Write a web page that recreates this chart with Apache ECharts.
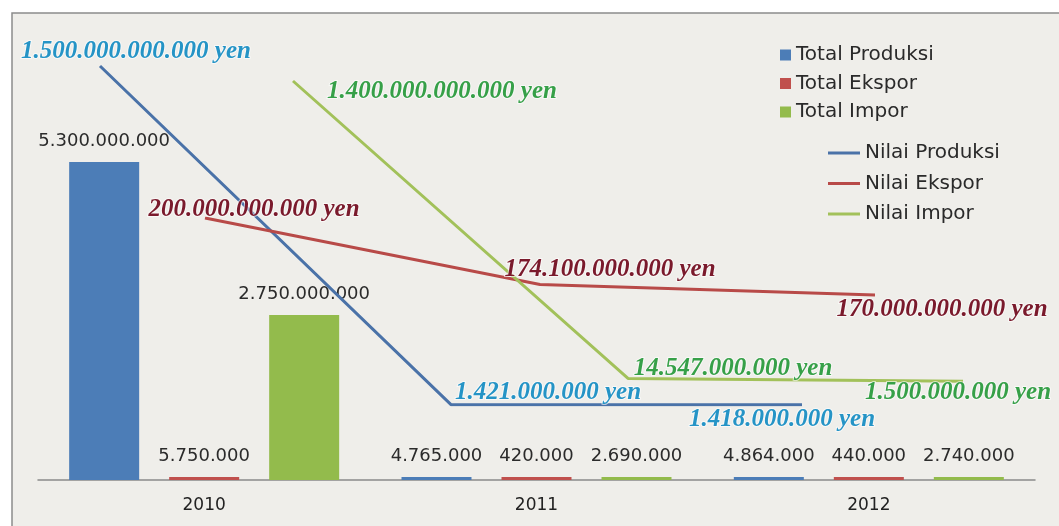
<!DOCTYPE html>
<html>
<head>
<meta charset="utf-8">
<script src="https://cdn.jsdelivr.net/npm/echarts@6/dist/echarts.min.js"></script>
<style>
  html, body { margin: 0; padding: 0; background: #ffffff; }
  #chart { width: 1059px; height: 526px; }
</style>
</head>
<body>
<div id="chart"></div>
<script>
// ---- data ----
const categories = ['2010', '2011', '2012'];
const totalProduksi = [5300000000, 4765000, 4864000];
const totalEkspor = [5750000, 420000, 440000];
const totalImpor = [2750000000, 2690000, 2740000];
const nilaiProduksi = [1500000000000, 1421000000, 1418000000];
const nilaiEkspor = [200000000000, 174100000000, 170000000000];
const nilaiImpor = [1400000000000, 14547000000, 1500000000];

// ---- layout (label offsets, px) ----
const produksiLabelOffset = [[36, -14], [97, -12], [-20, 15]];
const eksporLabelOffset = [[49, -8], [70, -15], [67, 15]];
const imporLabelOffset = [[149, 11], [105, -10], [-5, 11]];

function fmt(v) {
  return String(Math.round(v)).replace(/\B(?=(\d{3})+(?!\d))/g, '.');
}

const colors = {
  barProd: '#4c7db7', barEks: '#c0504d', barImp: '#93bb4c',
  lineProd: '#4a72a8', lineEks: '#b84a48', lineImp: '#a2c15a',
  lblProd: '#2594c6', lblEks: '#7a1a2c', lblImp: '#36a048'
};

function lineData(values, offsets) {
  return values.map((v, i) => ({ value: v, label: { offset: offsets[i] } }));
}

const serifLabel = (color) => ({
  show: true,
  position: 'inside',
  align: 'center',
  verticalAlign: 'middle',
  fontFamily: 'Liberation Serif',
  fontStyle: 'italic',
  fontWeight: 'bold',
  fontSize: 25,
  color: color,
  textBorderColor: 'rgba(255,255,255,0.6)',
  textBorderWidth: 2,
  formatter: (p) => fmt(p.value) + ' yen'
});

const barLabel = {
  show: true,
  position: 'top',
  distance: 12,
  fontFamily: 'DejaVu Sans',
  fontSize: 18,
  color: '#2b2b2b',
  formatter: (p) => fmt(p.value)
};

const chart = echarts.init(document.getElementById('chart'), null, { renderer: 'canvas' });

const option = {
  animation: false,
  backgroundColor: '#ffffff',
  graphic: [{
    type: 'rect',
    z: -10,
    silent: true,
    shape: { x: 12, y: 13, width: 1100, height: 600 },
    style: { fill: '#efeeea', stroke: '#8c8c8c', lineWidth: 1.5 }
  }],
  legend: [{
    orient: 'vertical',
    left: 780,
    top: 45,
    padding: 0,
    itemGap: 8.5,
    itemWidth: 11,
    itemHeight: 11,
    icon: 'rect',
    textStyle: { fontFamily: 'DejaVu Sans', fontSize: 20, lineHeight: 20, color: '#2a2a2a' },
    data: ['Total Produksi', 'Total Ekspor', 'Total Impor']
  }, {
    orient: 'vertical',
    left: 828,
    top: 143,
    padding: 0,
    itemGap: 10.5,
    itemWidth: 32,
    itemHeight: 3,
    icon: 'rect',
    textStyle: { fontFamily: 'DejaVu Sans', fontSize: 20, lineHeight: 20, color: '#2a2a2a' },
    data: ['Nilai Produksi', 'Nilai Ekspor', 'Nilai Impor']
  }],
  grid: [
    { left: 38, right: 24, top: 120, bottom: 46, containLabel: false },
    { left: 100, right: 257, top: 66, bottom: 121, containLabel: false },
    { left: 205, right: 184, top: 218, bottom: 205.3, containLabel: false },
    { left: 293, right: 96, top: 81, bottom: 144.5, containLabel: false }
  ],
  xAxis: [
    {
      type: 'category', gridIndex: 0, data: categories,
      axisLine: { lineStyle: { color: '#8a8a8a', width: 1.5 } },
      axisTick: { show: false },
      axisLabel: { margin: 17, fontFamily: 'DejaVu Sans', fontSize: 17, color: '#222222' }
    },
    { type: 'category', gridIndex: 1, data: categories, boundaryGap: false, show: false },
    { type: 'category', gridIndex: 2, data: categories, boundaryGap: false, show: false },
    { type: 'category', gridIndex: 3, data: categories, boundaryGap: false, show: false }
  ],
  yAxis: [
    { type: 'value', gridIndex: 0, min: 0, max: 6000000000, show: false, splitLine: { show: false } },
    { type: 'value', gridIndex: 1, min: 0, max: 1500000000000, show: false, splitLine: { show: false } },
    { type: 'value', gridIndex: 2, min: 160000000000, max: 200000000000, show: false, splitLine: { show: false } },
    { type: 'value', gridIndex: 3, min: 0, max: 1400000000000, show: false, splitLine: { show: false } }
  ],
  series: [
    {
      name: 'Total Produksi', type: 'bar', xAxisIndex: 0, yAxisIndex: 0,
      data: totalProduksi, barWidth: 70, barGap: '42.86%', barMinHeight: 3,
      itemStyle: { color: colors.barProd }, label: barLabel
    },
    {
      name: 'Total Ekspor', type: 'bar', xAxisIndex: 0, yAxisIndex: 0,
      data: totalEkspor, barWidth: 70, barGap: '42.86%', barMinHeight: 3,
      itemStyle: { color: colors.barEks }, label: barLabel
    },
    {
      name: 'Total Impor', type: 'bar', xAxisIndex: 0, yAxisIndex: 0,
      data: totalImpor, barWidth: 70, barGap: '42.86%', barMinHeight: 3,
      itemStyle: { color: colors.barImp }, label: barLabel
    },
    {
      name: 'Nilai Produksi', type: 'line', xAxisIndex: 1, yAxisIndex: 1, z: 5,
      data: lineData(nilaiProduksi, produksiLabelOffset),
      symbol: 'circle', symbolSize: 0.1, showSymbol: true,
      lineStyle: { color: colors.lineProd, width: 3 },
      itemStyle: { color: colors.lineProd },
      label: serifLabel(colors.lblProd)
    },
    {
      name: 'Nilai Ekspor', type: 'line', xAxisIndex: 2, yAxisIndex: 2, z: 5,
      data: lineData(nilaiEkspor, eksporLabelOffset),
      symbol: 'circle', symbolSize: 0.1, showSymbol: true,
      lineStyle: { color: colors.lineEks, width: 3 },
      itemStyle: { color: colors.lineEks },
      label: serifLabel(colors.lblEks)
    },
    {
      name: 'Nilai Impor', type: 'line', xAxisIndex: 3, yAxisIndex: 3, z: 5,
      data: lineData(nilaiImpor, imporLabelOffset),
      symbol: 'circle', symbolSize: 0.1, showSymbol: true,
      lineStyle: { color: colors.lineImp, width: 3 },
      itemStyle: { color: colors.lineImp },
      label: serifLabel(colors.lblImp)
    }
  ]
};

chart.setOption(option);
</script>
</body>
</html>
